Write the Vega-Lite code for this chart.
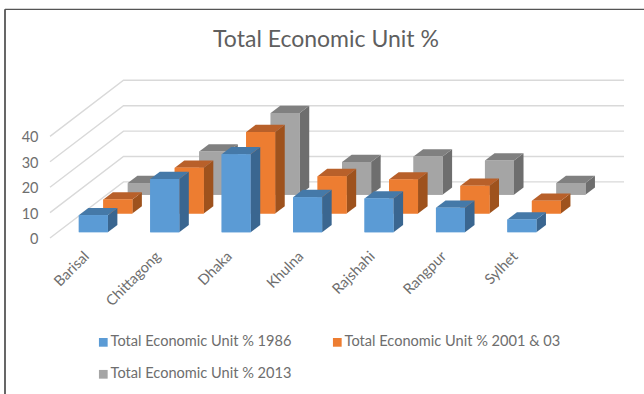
{
  "$schema": "https://vega.github.io/schema/vega-lite/v6.json",
  "width": 574,
  "height": 157,
  "autosize": "none",
  "padding": {"left": 50, "top": 81, "right": 20, "bottom": 156},
  "background": "white",
  "view": {"stroke": null},
  "title": {
    "text": "Total Economic Unit %",
    "frame": "group",
    "font": "Lato",
    "fontSize": 23,
    "fontWeight": "normal",
    "color": "#5f5f5f",
    "anchor": "middle",
    "dx": -11,
    "offset": -43
  },
  "config": {
    "legend": {"labelFont": "Lato", "labelFontSize": 14.6, "labelColor": "#6e6e6e"},
    "axis": {
      "domain": false,
      "ticks": false,
      "grid": false,
      "labelFont": "Lato",
      "labelColor": "#6e6e6e",
      "labelBound": false,
      "labelFlush": false
    },
    "axisX": {"labelFontSize": 14.6, "labelAngle": -45, "labelAlign": "right", "labelBaseline": "middle", "labelPadding": 16, "labelOffset": 1},
    "axisY": {"labelFontSize": 14.5, "labelPadding": 12, "labelOffset": 1.5}
  },
  "data": {
    "values": [
      {"region": "Barisal", "series": "Total Economic Unit % 1986", "value": 6.7},
      {"region": "Chittagong", "series": "Total Economic Unit % 1986", "value": 20.9},
      {"region": "Dhaka", "series": "Total Economic Unit % 1986", "value": 30.7},
      {"region": "Khulna", "series": "Total Economic Unit % 1986", "value": 13.8},
      {"region": "Rajshahi", "series": "Total Economic Unit % 1986", "value": 13.3},
      {"region": "Rangpur", "series": "Total Economic Unit % 1986", "value": 9.6},
      {"region": "Sylhet", "series": "Total Economic Unit % 1986", "value": 5.0},
      {"region": "Barisal", "series": "Total Economic Unit % 2001 & 03", "value": 5.5},
      {"region": "Chittagong", "series": "Total Economic Unit % 2001 & 03", "value": 18.0},
      {"region": "Dhaka", "series": "Total Economic Unit % 2001 & 03", "value": 32.1},
      {"region": "Khulna", "series": "Total Economic Unit % 2001 & 03", "value": 14.7},
      {"region": "Rajshahi", "series": "Total Economic Unit % 2001 & 03", "value": 13.4},
      {"region": "Rangpur", "series": "Total Economic Unit % 2001 & 03", "value": 10.9},
      {"region": "Sylhet", "series": "Total Economic Unit % 2001 & 03", "value": 5.0},
      {"region": "Barisal", "series": "Total Economic Unit % 2013", "value": 4.6},
      {"region": "Chittagong", "series": "Total Economic Unit % 2013", "value": 17.0},
      {"region": "Dhaka", "series": "Total Economic Unit % 2013", "value": 32.2},
      {"region": "Khulna", "series": "Total Economic Unit % 2013", "value": 12.9},
      {"region": "Rajshahi", "series": "Total Economic Unit % 2013", "value": 15.1},
      {"region": "Rangpur", "series": "Total Economic Unit % 2013", "value": 13.5},
      {"region": "Sylhet", "series": "Total Economic Unit % 2013", "value": 4.6}
    ]
  },
  "layer": [
    {
      "data": {"values": [{"tick": 0}, {"tick": 10}, {"tick": 20}, {"tick": 30}, {"tick": 40}]},
      "transform": [
        {"calculate": "[0, 1, 2]", "as": "corner"},
        {"flatten": ["corner"]},
        {"calculate": "[-0.5, 0.529, 7.536][datum.corner]", "as": "wallX"},
        {"calculate": "datum.tick + [0, 22.08, 22.08][datum.corner]", "as": "wallY"}
      ],
      "mark": {"type": "line", "color": "#d9d9d9", "strokeWidth": 1.4},
      "encoding": {
        "x": {
          "field": "wallX",
          "type": "quantitative",
          "sort": null,
          "scale": {"domain": [-0.5, 7.536], "nice": false, "zero": false},
          "axis": {
            "title": null,
            "values": [0, 1, 2, 3, 4, 5, 6],
            "tickCount": 7,
            "labelOverlap": false,
            "labelExpr": "['Barisal','Chittagong','Dhaka','Khulna','Rajshahi','Rangpur','Sylhet'][datum.value]"
          }
        },
        "y": {
          "field": "wallY",
          "type": "quantitative",
          "scale": {"domain": [0, 61.8], "nice": false},
          "axis": {"title": null, "values": [0, 10, 20, 30, 40], "tickCount": 5, "labelOverlap": false}
        },
        "detail": {"field": "tick"}
      }
    },
    {
      "transform": [
        {"calculate": "indexof(['Barisal','Chittagong','Dhaka','Khulna','Rajshahi','Rangpur','Sylhet'], datum.region)", "as": "cat"},
        {"calculate": "indexof(['Total Economic Unit % 1986','Total Economic Unit % 2001 & 03','Total Economic Unit % 2013'], datum.series)", "as": "slot"},
        {"calculate": "(datum.slot + 0.31) * 7.36", "as": "base"},
        {"calculate": "datum.base + datum.value", "as": "top"},
        {"calculate": "datum.cat - 0.203 + (datum.slot + 0.31) * 0.343", "as": "left"},
        {"calculate": "datum.left + 0.406", "as": "right"},
        {"calculate": "[0, 1]", "as": "t"},
        {"flatten": ["t"]},
        {"calculate": "datum.left + datum.t * 0.134", "as": "topLeft"},
        {"calculate": "datum.right + datum.t * 0.134", "as": "topRight"},
        {"calculate": "datum.base + datum.t * 2.87", "as": "sideBase"},
        {"calculate": "datum.top + datum.t * 2.87", "as": "sideTop"}
      ],
      "layer": [
        {
          "transform": [{"filter": "datum.slot === 2"}],
          "layer": [
            {
              "mark": {"type": "area", "orient": "vertical", "color": "#6e6e6e"},
              "encoding": {
                "x": {"field": "topRight", "type": "quantitative", "axis": {"title": null}},
                "y": {"field": "sideTop", "type": "quantitative", "axis": {"title": null}},
                "y2": {"field": "sideBase"},
                "detail": {"field": "region"}
              }
            },
            {
              "mark": {"type": "area", "orient": "horizontal", "color": "#808080"},
              "encoding": {
                "y": {"field": "sideTop", "type": "quantitative", "axis": {"title": null}},
                "x": {"field": "topLeft", "type": "quantitative", "axis": {"title": null}},
                "x2": {"field": "topRight"},
                "detail": {"field": "region"}
              }
            },
            {
              "mark": {"type": "rect"},
              "encoding": {
                "x": {"field": "left", "type": "quantitative", "axis": {"title": null}},
                "x2": {"field": "right"},
                "y": {"field": "base", "type": "quantitative", "axis": {"title": null}},
                "y2": {"field": "top"},
                "color": {
                  "field": "series",
                  "type": "nominal",
                  "scale": {
                    "domain": ["Total Economic Unit % 1986", "Total Economic Unit % 2001 & 03", "Total Economic Unit % 2013"],
                    "range": ["#5b9bd5", "#ed7d31", "#a5a5a5"]
                  },
                  "legend": {
                    "title": null,
                    "orient": "none",
                    "legendX": 46,
                    "legendY": 254,
                    "direction": "horizontal",
                    "columns": 2,
                    "symbolType": "square",
                    "symbolSize": 76,
                    "symbolStrokeWidth": 0,
                    "labelOffset": 0,
                    "columnPadding": 38,
                    "rowPadding": 17,
                    "labelLimit": 260
                  }
                }
              }
            }
          ]
        },
        {
          "transform": [{"filter": "datum.slot === 1"}],
          "layer": [
            {
              "mark": {"type": "area", "orient": "vertical", "color": "#9e521d"},
              "encoding": {
                "x": {"field": "topRight", "type": "quantitative", "axis": {"title": null}},
                "y": {"field": "sideTop", "type": "quantitative", "axis": {"title": null}},
                "y2": {"field": "sideBase"},
                "detail": {"field": "region"}
              }
            },
            {
              "mark": {"type": "area", "orient": "horizontal", "color": "#b8602a"},
              "encoding": {
                "y": {"field": "sideTop", "type": "quantitative", "axis": {"title": null}},
                "x": {"field": "topLeft", "type": "quantitative", "axis": {"title": null}},
                "x2": {"field": "topRight"},
                "detail": {"field": "region"}
              }
            },
            {
              "mark": {"type": "rect"},
              "encoding": {
                "x": {"field": "left", "type": "quantitative", "axis": {"title": null}},
                "x2": {"field": "right"},
                "y": {"field": "base", "type": "quantitative", "axis": {"title": null}},
                "y2": {"field": "top"},
                "color": {"field": "series", "type": "nominal"}
              }
            }
          ]
        },
        {
          "transform": [{"filter": "datum.slot === 0"}],
          "layer": [
            {
              "mark": {"type": "area", "orient": "vertical", "color": "#3a6690"},
              "encoding": {
                "x": {"field": "topRight", "type": "quantitative", "axis": {"title": null}},
                "y": {"field": "sideTop", "type": "quantitative", "axis": {"title": null}},
                "y2": {"field": "sideBase"},
                "detail": {"field": "region"}
              }
            },
            {
              "mark": {"type": "area", "orient": "horizontal", "color": "#4579a8"},
              "encoding": {
                "y": {"field": "sideTop", "type": "quantitative", "axis": {"title": null}},
                "x": {"field": "topLeft", "type": "quantitative", "axis": {"title": null}},
                "x2": {"field": "topRight"},
                "detail": {"field": "region"}
              }
            },
            {
              "mark": {"type": "rect"},
              "encoding": {
                "x": {"field": "left", "type": "quantitative", "axis": {"title": null}},
                "x2": {"field": "right"},
                "y": {"field": "base", "type": "quantitative", "axis": {"title": null}},
                "y2": {"field": "top"},
                "color": {"field": "series", "type": "nominal"}
              }
            }
          ]
        }
      ]
    },
    {
      "data": {"values": [{"edge": "left"}, {"edge": "top"}]},
      "transform": [
        {"calculate": "-1.13", "as": "frameLeft"},
        {"calculate": "datum.edge === 'top' ? 7.82 : -1.13", "as": "frameRight"},
        {"calculate": "90", "as": "frameTop"},
        {"calculate": "datum.edge === 'left' ? -61.5 : 90", "as": "frameBottom"}
      ],
      "mark": {"type": "rule", "strokeWidth": 1.2},
      "encoding": {
        "x": {"field": "frameLeft", "type": "quantitative", "axis": {"title": null}},
        "x2": {"field": "frameRight"},
        "y": {"field": "frameTop", "type": "quantitative", "axis": {"title": null}},
        "y2": {"field": "frameBottom"},
        "stroke": {"field": "edge", "type": "nominal", "scale": {"domain": ["left", "top"], "range": ["#000000", "#555555"]}, "legend": null}
      }
    }
  ]
}
